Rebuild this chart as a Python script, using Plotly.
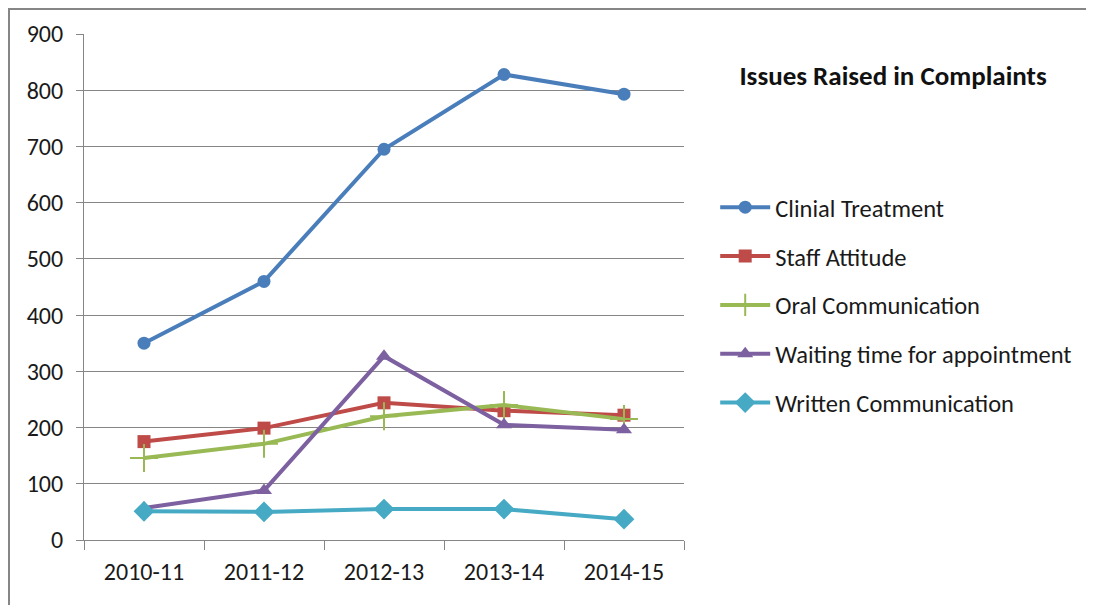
import plotly.graph_objects as go

years = ["2010-11", "2011-12", "2012-13", "2013-14", "2014-15"]

clinical_treatment = [350, 460, 695, 828, 793]
staff_attitude = [175, 199, 244, 230, 222]
oral_communication = [146, 171, 220, 240, 215]
waiting_time = [57, 88, 327, 205, 196]
written_communication = [51, 50, 55, 55, 37]

y_ticks = [0, 100, 200, 300, 400, 500, 600, 700, 800, 900]

font_family = "Carlito, Calibri, 'Liberation Sans', Arial, sans-serif"
grey = "#868686"

fig = go.Figure()

series = [
    ("Clinial Treatment", clinical_treatment, "#4A7EBB", "circle", 13),
    ("Staff Attitude", staff_attitude, "#BE4B48", "square", 13),
    ("Oral Communication", oral_communication, "#98B954", "cross-thin", 20),
    ("Waiting time for appointment", waiting_time, "#7D60A0", "triangle-up", 14),
    ("Written Communication", written_communication, "#46AAC5", "diamond", 16),
]

for i, (name, vals, col, sym, size) in enumerate(series):
    if sym == "cross-thin":
        mk = dict(symbol=sym, size=size, color=col, line=dict(width=2, color=col))
    else:
        mk = dict(symbol=sym, size=size, color=col, line=dict(width=0))
    fig.add_trace(go.Scatter(x=years, y=vals, name=name, mode="lines+markers",
                             line=dict(color=col, width=4), marker=mk,
                             legendgroup="g%d" % i))

fig.update_layout(
    width=1094, height=605,
    margin=dict(l=76, r=418, t=26, b=73),
    paper_bgcolor="white", plot_bgcolor="white",
    font=dict(family=font_family, color="#1a1a1a", size=24),
    showlegend=True,
    legend=dict(x=1.052, xanchor="left", y=0.702, yanchor="top",
                font=dict(size=24.5), itemwidth=50, tracegroupgap=14,
                bgcolor="rgba(0,0,0,0)"),
    title=dict(text="<b>Issues Raised in Complaints</b>", xref="container", x=0.809,
               xanchor="center", yref="container", y=0.889, yanchor="middle",
               font=dict(size=27, color="#111111")),
)

fig.update_xaxes(type="category", range=[-0.5, 4.5], tickson="boundaries",
                 ticks="outside", ticklen=9, tickcolor=grey, tickwidth=1,
                 showgrid=False, showline=True, linecolor=grey, linewidth=1,
                 tickfont=dict(size=24), ticklabelstandoff=10)
fig.update_yaxes(range=[0, 900], tickvals=y_ticks, ticks="outside", ticklen=7,
                 tickcolor=grey, showgrid=True, gridcolor=grey, gridwidth=1,
                 showline=True, linecolor=grey, linewidth=1, zeroline=False,
                 tickfont=dict(size=24), ticklabelstandoff=8)

# outer chart border (partly cropped in the original)
fig.add_shape(type="rect", xref="paper", yref="paper",
              x0=-75 / 600, x1=1.75, y0=-0.3, y1=1 + 25 / 506,
              line=dict(color=grey, width=2), fillcolor="rgba(0,0,0,0)")

fig.write_html("out.html")
